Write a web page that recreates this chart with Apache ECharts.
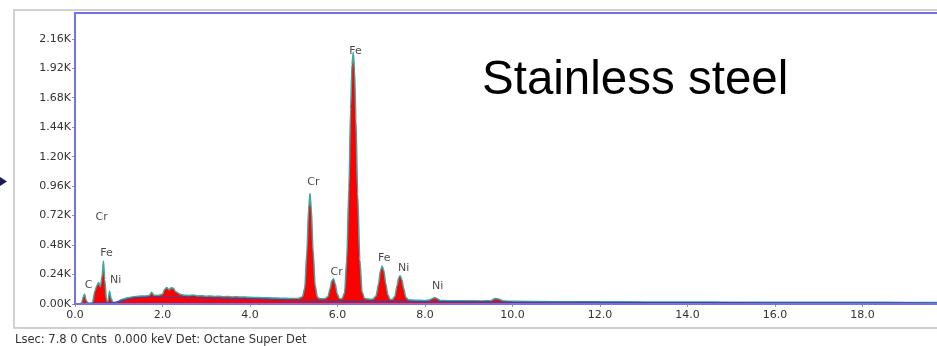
<!DOCTYPE html>
<html>
<head>
<meta charset="utf-8">
<script src="https://cdn.jsdelivr.net/npm/echarts@6/dist/echarts.min.js"></script>
<style>
html,body{margin:0;padding:0;background:#fff;}
#chart{width:937px;height:346px;}
</style>
</head>
<body>
<div id="chart"></div>
<script>
// Measured spectrum (energy in keV, counts)
const spectrumKeV = [
  0.00,0.05,0.10,0.15,0.19,0.22,0.25,0.29,0.34,0.40,
  0.45,0.50,0.54,0.58,0.62,0.65,0.68,0.72,0.75,0.79,
  0.83,0.87,0.92,0.96,1.00,1.10,1.20,1.30,1.40,1.50,
  1.60,1.70,1.75,1.80,1.90,2.00,2.05,2.10,2.15,2.20,
  2.25,2.30,2.40,2.50,2.60,2.70,2.80,2.90,3.00,3.10,
  3.20,3.30,3.40,3.50,3.60,3.70,3.80,3.90,4.00,4.20,
  4.40,4.60,4.80,5.00,5.10,5.20,5.25,5.30,5.34,5.37,
  5.40,5.44,5.49,5.54,5.60,5.70,5.78,5.83,5.87,5.91,
  5.95,5.99,6.04,6.10,6.16,6.21,6.26,6.30,6.33,6.36,
  6.39,6.42,6.46,6.51,6.56,6.62,6.70,6.80,6.88,6.94,
  6.98,7.02,7.06,7.10,7.15,7.20,7.25,7.31,7.36,7.40,
  7.43,7.47,7.51,7.56,7.62,7.70,7.80,7.90,8.00,8.10,
  8.16,8.22,8.28,8.35,8.50,8.70,9.00,9.30,9.50,9.60,
  9.68,9.80,10.0,11.0,12.0,13.0,14.0,15.0,16.0,17.0,
  18.0,19.0,20.0
];
const spectrumCounts = [
  0,0,2,8,60,82,35,10,5,12,
  100,150,175,140,230,350,200,30,15,106,
  40,10,8,15,25,40,50,58,62,65,
  66,70,95,72,70,80,120,135,115,132,
  128,100,80,72,70,74,66,68,64,66,
  62,63,60,61,58,59,56,57,54,53,
  50,48,46,44,45,60,130,430,780,900,
  780,440,150,55,42,42,60,125,190,205,
  160,85,45,42,90,360,950,1600,1950,2050,
  1900,1500,900,360,100,45,40,38,65,170,
  270,310,270,170,75,38,36,62,150,215,
  230,200,130,55,34,32,30,30,29,32,
  42,52,42,28,27,26,26,25,26,45,
  40,24,22,19,18,17,16,15,15,14,
  14,13,13
];
// Background (continuum) fit
const backgroundKeV    = [0,0.4,0.8,1.0,1.3,1.6,2.0,2.5,3.0,3.5,4.0,4.5,5.0,6.0,7.0,8.0,9.0,10,12,14,16,18,20];
const backgroundCounts = [0,5,10,20,45,55,55,52,48,44,40,36,32,27,23,20,18,16,13,11,10,9,8];
// Element labels
const peakNames  = ['C','Fe','Ni','Cr','Cr','Fe','Cr','Fe','Ni','Ni'];
const peakKeV    = [0.31,0.72,0.93,0.61,5.45,6.41,5.98,7.07,7.51,8.29];
const peakCounts = [155,416,196,709,994,2062,261,375,293,147];
// Axis ticks
const yTickStep = 240;
const xTickStep = 2;
const chartTitle = 'Stainless steel';
const caption = 'Lsec: 7.8 0 Cnts  0.000 keV Det: Octane Super Det';

const spectrum = spectrumKeV.map((e, i) => [e, spectrumCounts[i]]);
const background = backgroundKeV.map((e, i) => [e, backgroundCounts[i]]);
const labels = peakKeV.map((e, i) => ({ value: [e, peakCounts[i]], name: peakNames[i] }));

const chart = echarts.init(document.getElementById('chart'), null, { renderer: 'canvas' });
const axisFont = 'DejaVu Sans';
chart.setOption({
  animation: false,
  backgroundColor: '#ffffff',
  grid: {
    left: 75, top: 13, right: 0, bottom: 42, show: false
  },
  xAxis: {
    type: 'value', min: 0, max: 19.7, interval: xTickStep,
    axisLine: { show: false },
    axisTick: { show: true, length: 3, lineStyle: { color: '#999' } },
    splitLine: { show: false },
    axisLabel: {
      color: '#333', fontFamily: axisFont, fontSize: 11, margin: 6,
      showMaxLabel: false,
      formatter: v => v.toFixed(1)
    }
  },
  yAxis: {
    type: 'value', min: 0, max: 2370, interval: yTickStep,
    axisLine: { show: false },
    axisTick: { show: true, length: 3, lineStyle: { color: '#999' } },
    splitLine: { show: false },
    axisLabel: {
      color: '#333', fontFamily: axisFont, fontSize: 11, margin: 4,
      showMaxLabel: false,
      formatter: v => (v / 1000).toFixed(2) + 'K'
    }
  },
  series: [
    {
      type: 'line', data: spectrum, showSymbol: false, smooth: 0.25, smoothMonotone: 'x',
      lineStyle: { color: '#3ea7a2', width: 1.5 },
      areaStyle: { color: '#ff0000', opacity: 1 },
      z: 2
    },
    {
      type: 'line', data: background, showSymbol: false, smooth: 0.3,
      lineStyle: { color: '#4a3f99', width: 1.2 },
      z: 3
    },
    {
      type: 'scatter', data: labels, symbolSize: 1,
      itemStyle: { color: 'rgba(0,0,0,0)' },
      label: {
        show: true, position: 'inside', formatter: p => p.name,
        color: '#1a1a1a', fontFamily: axisFont, fontSize: 11
      },
      z: 5
    }
  ],
  graphic: [
    {
      type: 'rect', shape: { x: 14, y: 10, width: 940, height: 318 },
      style: { fill: 'none', stroke: '#c2c2c2', lineWidth: 1.5 }, z: -1
    },
    {
      type: 'rect', shape: { x: 75, y: 13, width: 900, height: 291 },
      style: { fill: 'none', stroke: '#7373e6', lineWidth: 2 }, z: 10
    },
    {
      type: 'polygon', shape: { points: [[0, 177], [7, 181.5], [0, 186]] },
      style: { fill: '#1c1c5c' }
    },
    {
      type: 'text', x: 482, y: 81,
      style: {
        text: chartTitle, fill: '#000', fontFamily: 'Liberation Sans', fontSize: 47.5,
        verticalAlign: 'middle', align: 'left'
      }
    },
    {
      type: 'text', x: 15, y: 340,
      style: {
        text: caption, fill: '#333', fontFamily: axisFont, fontSize: 11.5,
        verticalAlign: 'middle', align: 'left'
      }
    }
  ]
});
</script>
</body>
</html>
